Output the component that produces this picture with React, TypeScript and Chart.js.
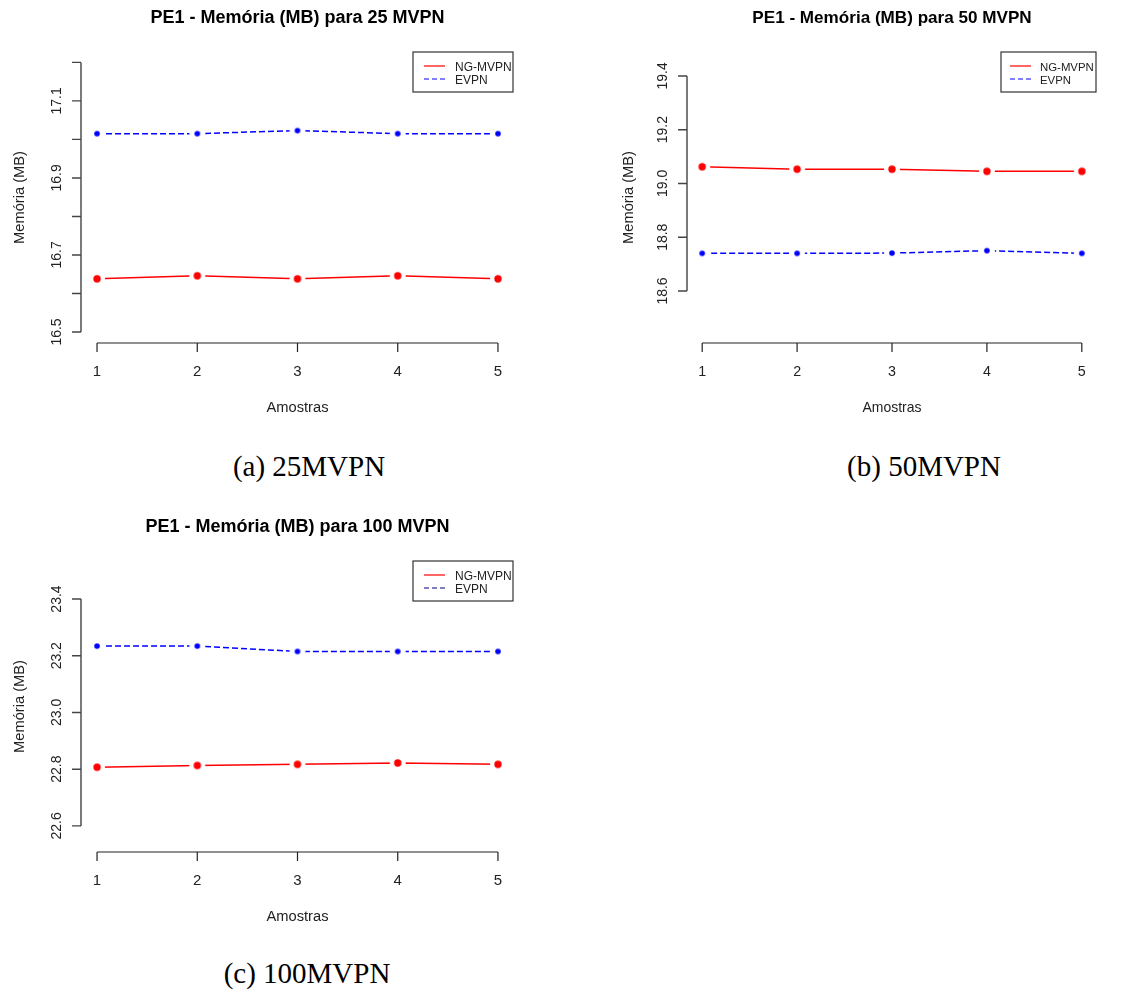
import React, { useEffect, useRef } from "react";
import { Chart, registerables } from "chart.js";

Chart.register(...registerables);

// ---------- data ----------
const samples = [1, 2, 3, 4, 5];
const seriesNames = ["NG-MVPN", "EVPN"];

const ngMvpn25 = [16.638, 16.646, 16.638, 16.646, 16.638];
const evpn25 = [17.015, 17.015, 17.023, 17.015, 17.015];

const ngMvpn50 = [19.062, 19.053, 19.053, 19.045, 19.045];
const evpn50 = [18.74, 18.74, 18.741, 18.75, 18.74];

const ngMvpn100 = [22.807, 22.813, 22.817, 22.822, 22.817];
const evpn100 = [23.234, 23.234, 23.215, 23.215, 23.215];

const yTicks25 = [16.5, 16.6, 16.7, 16.8, 16.9, 17.0, 17.1, 17.2];
const yLabels25 = ["16.5", "", "16.7", "", "16.9", "", "17.1", ""];
const yTicks50 = [18.6, 18.8, 19.0, 19.2, 19.4];
const yLabels50 = ["18.6", "18.8", "19.0", "19.2", "19.4"];
const yTicks100 = [22.6, 22.8, 23.0, 23.2, 23.4];
const yLabels100 = ["22.6", "22.8", "23.0", "23.2", "23.4"];

const yRange25 = [16.4714, 17.227];
const yRange50 = [18.4065, 19.489];
const yRange100 = [22.508, 23.534];
const xRange = [0.84, 5.16];

const titles = [
  "PE1 - Memória (MB) para 25 MVPN",
  "PE1 - Memória (MB) para 50 MVPN",
  "PE1 - Memória (MB) para 100 MVPN",
];
const captions = ["(a) 25MVPN", "(b) 50MVPN", "(c) 100MVPN"];
const xTitle = "Amostras";
const yTitle = "Memória (MB)";

const RED = "#ff0000";
const BLUE = "#0000ff";
const SANS = '"Liberation Sans", Arial, sans-serif';

function makeDot(color: string, r: number, gap: number) {
  const size = Math.ceil(gap * 2) + 2;
  const c = document.createElement("canvas");
  c.width = size;
  c.height = size;
  const g = c.getContext("2d")!;
  g.fillStyle = "#ffffff";
  g.beginPath();
  g.arc(size / 2, size / 2, gap, 0, Math.PI * 2);
  g.fill();
  g.fillStyle = color;
  g.beginPath();
  g.arc(size / 2, size / 2, r, 0, Math.PI * 2);
  g.fill();
  return c;
}

const rPlot = {
  id: "rPlot",
  afterDraw(chart: any, _args: any, o: any) {
    const ctx: CanvasRenderingContext2D = chart.ctx;
    const xs = chart.scales.x;
    const ys = chart.scales.y;
    const a = chart.chartArea;
    const f = o.fs;
    ctx.save();
    ctx.textBaseline = "alphabetic";

    // title
    ctx.fillStyle = "#000";
    ctx.font = `bold ${18 * f}px ${SANS}`;
    ctx.textAlign = "center";
    ctx.fillText(o.title, (a.left + a.right) / 2, o.titleY);

    // x axis
    const xp = samples.map((s) => xs.getPixelForValue(s));
    ctx.strokeStyle = "#222";
    ctx.lineWidth = 1.2;
    ctx.beginPath();
    ctx.moveTo(xp[0], a.bottom);
    ctx.lineTo(xp[xp.length - 1], a.bottom);
    xp.forEach((p) => {
      ctx.moveTo(p, a.bottom);
      ctx.lineTo(p, a.bottom + 9);
    });
    ctx.stroke();
    ctx.fillStyle = "#222";
    ctx.font = `${15 * f}px ${SANS}`;
    samples.forEach((s, i) => ctx.fillText(String(s), xp[i], a.bottom + 33));
    ctx.font = `${14.7 * f}px ${SANS}`;
    ctx.fillText(xTitle, (a.left + a.right) / 2, a.bottom + 69);

    // y axis
    const yp = o.yTicks.map((v: number) => ys.getPixelForValue(v));
    ctx.strokeStyle = "#444";
    ctx.lineWidth = 1.4;
    ctx.beginPath();
    ctx.moveTo(a.left, yp[0]);
    ctx.lineTo(a.left, yp[yp.length - 1]);
    yp.forEach((p: number) => {
      ctx.moveTo(a.left, p);
      ctx.lineTo(a.left - 9, p);
    });
    ctx.stroke();
    ctx.font = `14px ${SANS}`;
    ctx.fillStyle = "#222";
    o.yLabels.forEach((t: string, i: number) => {
      if (!t) return;
      ctx.save();
      ctx.translate(a.left - 20.5, yp[i]);
      ctx.rotate(-Math.PI / 2);
      ctx.textAlign = "center";
      ctx.fillText(t, 0, 0);
      ctx.restore();
    });
    ctx.save();
    ctx.font = `14.7px ${SANS}`;
    ctx.translate(a.left - o.yTitleOff, (a.top + a.bottom) / 2);
    ctx.rotate(-Math.PI / 2);
    ctx.textAlign = "center";
    ctx.fillText(yTitle, 0, 0);
    ctx.restore();

    // legend
    const lw = o.legW;
    const lx = a.right - lw - 1;
    const ly = a.top;
    ctx.strokeStyle = "#333";
    ctx.lineWidth = 1.2;
    ctx.strokeRect(lx, ly, lw, 40);
    ctx.lineWidth = 1.2;
    ctx.strokeStyle = o.legColors[0];
    ctx.setLineDash([]);
    ctx.beginPath();
    ctx.moveTo(lx + o.legL0, ly + 14);
    ctx.lineTo(lx + o.legL1, ly + 14);
    ctx.stroke();
    ctx.strokeStyle = o.legColors[1];
    ctx.setLineDash([5, 3]);
    ctx.beginPath();
    ctx.moveTo(lx + o.legL0, ly + 27);
    ctx.lineTo(lx + o.legL1, ly + 27);
    ctx.stroke();
    ctx.setLineDash([]);
    ctx.fillStyle = "#222";
    ctx.textAlign = "left";
    ctx.font = `${12 * f}px ${SANS}`;
    ctx.fillText(seriesNames[0], lx + o.legT, ly + 18.5);
    ctx.fillText(seriesNames[1], lx + o.legT, ly + 32);
    ctx.restore();
  },
};

type PanelProps = {
  left: number;
  top: number;
  pad: { left: number; right: number; top: number; bottom: number };
  ng: number[];
  ev: number[];
  yRange: number[];
  opts: any;
};

function Panel({ left, top, pad, ng, ev, yRange, opts }: PanelProps) {
  const ref = useRef<HTMLCanvasElement | null>(null);
  useEffect(() => {
    if (!ref.current) return;
    const redDot = makeDot(RED, 3.7, 8);
    const blueDot = makeDot(BLUE, 2.8, 8);
    const chart = new Chart(ref.current, {
      type: "line",
      data: {
        datasets: [
          {
            label: seriesNames[0],
            data: samples.map((s, i) => ({ x: s, y: ng[i] })),
            borderColor: RED,
            borderWidth: 1.5,
            pointStyle: redDot as any,
            pointRadius: 4,
            tension: 0,
          },
          {
            label: seriesNames[1],
            data: samples.map((s, i) => ({ x: s, y: ev[i] })),
            borderColor: BLUE,
            borderWidth: 1.5,
            borderDash: [6, 3],
            pointStyle: blueDot as any,
            pointRadius: 4,
            tension: 0,
          },
        ],
      },
      options: {
        responsive: false,
        animation: false,
        layout: { padding: pad },
        scales: {
          x: { type: "linear", min: xRange[0], max: xRange[1], display: false },
          y: { type: "linear", min: yRange[0], max: yRange[1], display: false },
        },
        plugins: {
          legend: { display: false },
          tooltip: { enabled: false },
          rPlot: opts,
        } as any,
      },
      plugins: [rPlot as any],
    });
    return () => chart.destroy();
  }, []);
  return (
    <canvas
      ref={ref}
      width={560}
      height={440}
      style={{ position: "absolute", left, top, width: 560, height: 440 }}
    />
  );
}

const captionStyle = (cx: number, top: number): React.CSSProperties => ({
  position: "absolute",
  left: cx - 150,
  top,
  width: 300,
  textAlign: "center",
  fontFamily: '"Liberation Serif", "Times New Roman", serif',
  fontSize: 29,
  lineHeight: "29px",
  color: "#000",
  whiteSpace: "nowrap",
});

export default function App() {
  const legA = { legW: 100, legL0: 11, legL1: 32, legT: 42 };
  const legB = { legW: 95, legL0: 9, legL1: 30, legT: 39 };
  return (
    <div
      style={{
        position: "absolute",
        left: 0,
        top: 0,
        width: 1130,
        height: 992,
        background: "#fff",
        overflow: "hidden",
      }}
    >
      <Panel
        left={0}
        top={0}
        pad={{ left: 81, right: 46, top: 52, bottom: 97 }}
        ng={ngMvpn25}
        ev={evpn25}
        yRange={yRange25}
        opts={{
          title: titles[0],
          titleY: 22.7,
          fs: 1,
          yTicks: yTicks25,
          yLabels: yLabels25,
          yTitleOff: 57,
          legColors: [RED, BLUE],
          ...legA,
        }}
      />
      <Panel
        left={570}
        top={0}
        pad={{ left: 117, right: 33, top: 52, bottom: 97 }}
        ng={ngMvpn50}
        ev={evpn50}
        yRange={yRange50}
        opts={{
          title: titles[1],
          titleY: 22.7,
          fs: 0.95,
          yTicks: yTicks50,
          yLabels: yLabels50,
          yTitleOff: 54,
          legColors: [RED, BLUE],
          ...legB,
        }}
      />
      <Panel
        left={0}
        top={505}
        pad={{ left: 81, right: 46, top: 56, bottom: 93 }}
        ng={ngMvpn100}
        ev={evpn100}
        yRange={yRange100}
        opts={{
          title: titles[2],
          titleY: 26.7,
          fs: 1,
          yTicks: yTicks100,
          yLabels: yLabels100,
          yTitleOff: 57,
          legColors: [RED, "#000080"],
          ...legA,
        }}
      />
      <div style={captionStyle(309, 452)}>{captions[0]}</div>
      <div style={captionStyle(924, 452)}>{captions[1]}</div>
      <div style={captionStyle(307, 959)}>{captions[2]}</div>
    </div>
  );
}
